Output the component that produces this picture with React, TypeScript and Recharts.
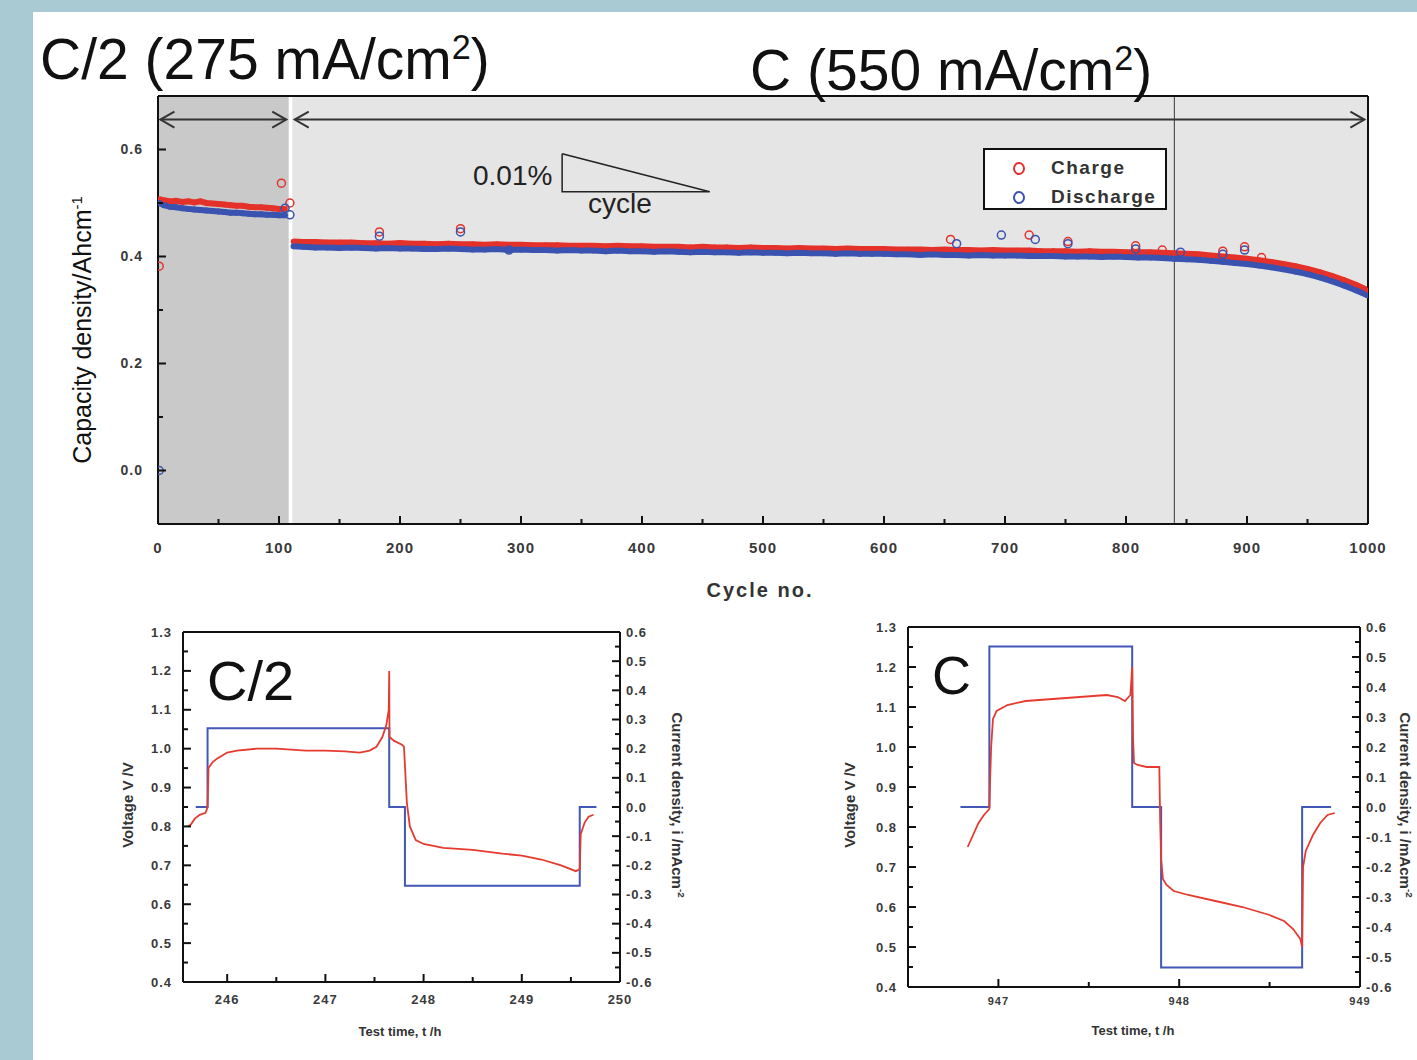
import React from 'react';
import { ComposedChart, Line, XAxis, YAxis, ReferenceArea, ReferenceLine } from 'recharts';

const FONT = '"Liberation Sans", Arial, Helvetica, sans-serif';

// ---- top panel: capacity vs cycle ----
const seg1Cycles = [1, 5, 10, 15, 20, 25, 30, 35, 40, 45, 50, 55, 60, 65, 70, 75, 80, 85, 90, 95, 100, 105];
const seg1Charge = [0.507, 0.505, 0.503, 0.504, 0.502, 0.503, 0.501, 0.503, 0.5, 0.499, 0.498, 0.497, 0.496, 0.495, 0.495, 0.493, 0.492, 0.492, 0.491, 0.49, 0.489, 0.489];
const seg1Discharge = [0.5, 0.496, 0.493, 0.492, 0.49, 0.489, 0.488, 0.487, 0.486, 0.485, 0.484, 0.483, 0.482, 0.482, 0.481, 0.48, 0.479, 0.479, 0.478, 0.478, 0.477, 0.477];

const seg2Cycles = [
  112, 120, 130, 140, 150, 160, 170, 180, 190, 200,
  210, 220, 230, 240, 250, 260, 270, 280, 290, 300,
  310, 320, 330, 340, 350, 360, 370, 380, 390, 400,
  410, 420, 430, 440, 450, 460, 470, 480, 490, 500,
  510, 520, 530, 540, 550, 560, 570, 580, 590, 600,
  610, 620, 630, 640, 650, 660, 670, 680, 690, 700,
  710, 720, 730, 740, 750, 760, 770, 780, 790, 800,
  810, 820, 830, 840, 850, 860, 870, 880, 890, 900,
  910, 920, 930, 940, 950, 960, 970, 980, 990, 1000,
];
const seg2Charge = [
  0.428, 0.427, 0.427, 0.426, 0.426, 0.426, 0.425, 0.425, 0.424, 0.425,
  0.424, 0.424, 0.423, 0.424, 0.423, 0.423, 0.422, 0.423, 0.422, 0.422,
  0.421, 0.421, 0.421, 0.42, 0.42, 0.42, 0.419, 0.42, 0.419, 0.419,
  0.418, 0.418, 0.418, 0.417, 0.418, 0.417, 0.417, 0.416, 0.417, 0.416,
  0.416, 0.415, 0.416, 0.415, 0.415, 0.414, 0.415, 0.414, 0.414, 0.414,
  0.413, 0.413, 0.413, 0.412, 0.413, 0.412, 0.412, 0.411, 0.412, 0.411,
  0.411, 0.411, 0.41, 0.41, 0.41, 0.409, 0.41, 0.409, 0.409, 0.408,
  0.408, 0.408, 0.407, 0.406, 0.405, 0.404, 0.402, 0.4, 0.398, 0.396,
  0.393, 0.39, 0.386, 0.382, 0.377, 0.371, 0.364, 0.356, 0.347, 0.337,
];
const seg2Discharge = [
  0.419, 0.418, 0.417, 0.417, 0.416, 0.417, 0.416, 0.415, 0.416, 0.415,
  0.415, 0.414, 0.414, 0.415, 0.414, 0.413, 0.413, 0.414, 0.412, 0.413,
  0.412, 0.412, 0.411, 0.412, 0.411, 0.411, 0.41, 0.411, 0.41, 0.41,
  0.409, 0.41, 0.409, 0.408, 0.409, 0.408, 0.408, 0.407, 0.408, 0.407,
  0.407, 0.406, 0.407, 0.406, 0.406, 0.405, 0.406, 0.405, 0.405, 0.405,
  0.404, 0.404, 0.403, 0.404, 0.403, 0.403, 0.402, 0.403, 0.402, 0.402,
  0.402, 0.401, 0.401, 0.401, 0.4, 0.4, 0.4, 0.399, 0.4, 0.399,
  0.398, 0.398, 0.397, 0.396, 0.395, 0.394, 0.392, 0.39, 0.388, 0.386,
  0.383, 0.38, 0.376, 0.372, 0.367, 0.361, 0.354, 0.346, 0.337, 0.327,
];

// scattered single points away from the band
const chargeOutCycles = [1, 102, 109, 183, 250, 655, 720, 752, 808, 830, 880, 898, 912];
const chargeOutValues = [0.382, 0.537, 0.5, 0.446, 0.452, 0.432, 0.44, 0.428, 0.42, 0.412, 0.41, 0.418, 0.398];
const dischargeOutCycles = [1, 105, 109, 183, 250, 290, 660, 697, 725, 752, 808, 845, 880, 898];
const dischargeOutValues = [0.0, 0.49, 0.478, 0.438, 0.446, 0.412, 0.424, 0.44, 0.432, 0.424, 0.414, 0.408, 0.404, 0.412];

// slope triangle (0.01 % / cycle)
const triangleCycles = [334, 334, 456, 334];
const triangleValues = [0.592, 0.521, 0.521, 0.592];

const cycleTicks = [0, 50, 100, 150, 200, 250, 300, 350, 400, 450, 500, 550, 600, 650, 700, 750, 800, 850, 900, 950, 1000];
const cycleMajors = [0, 100, 200, 300, 400, 500, 600, 700, 800, 900, 1000];
const capTicks = [0, 0.1, 0.2, 0.3, 0.4, 0.5, 0.6];
const capMajors = [0, 0.2, 0.4, 0.6];

// ---- lower panels: voltage / current vs time ----
const halfTime = [245.6, 245.63, 245.67, 245.72, 245.78, 245.8, 245.81, 245.85, 245.9, 246.0, 246.1, 246.3, 246.5, 246.8, 247.0, 247.2, 247.35, 247.45, 247.52, 247.58, 247.62, 247.645, 247.65, 247.653, 247.7, 247.78, 247.8, 247.83, 247.86, 247.92, 248.0, 248.2, 248.5, 248.8, 249.0, 249.2, 249.4, 249.55, 249.59, 249.6, 249.64, 249.68, 249.73];
const halfVoltage = [0.8, 0.805, 0.82, 0.83, 0.835, 0.85, 0.95, 0.965, 0.975, 0.99, 0.995, 1.0, 1.0, 0.995, 0.995, 0.993, 0.99, 0.995, 1.005, 1.03, 1.06, 1.1, 1.2, 1.03, 1.02, 1.01, 1.005, 0.86, 0.8, 0.765, 0.755, 0.745, 0.74, 0.73, 0.725, 0.715, 0.7, 0.685, 0.69, 0.78, 0.81, 0.825, 0.83];
const halfCurTime = [245.68, 245.8, 247.65, 247.81, 249.59, 249.76];
const halfCurrent = [0, 0.27, 0, -0.27, 0, 0];

const fullTime = [946.83, 946.86, 946.89, 946.92, 946.94, 946.95, 946.955, 946.96, 946.97, 946.99, 947.05, 947.15, 947.3, 947.45, 947.6, 947.66, 947.7, 947.73, 947.74, 947.745, 947.75, 947.77, 947.82, 947.89, 947.895, 947.9, 947.91, 947.93, 947.97, 948.05, 948.2, 948.35, 948.5, 948.58, 948.63, 948.67, 948.68, 948.685, 948.7, 948.74, 948.78, 948.82, 948.86];
const fullVoltage = [0.75, 0.78, 0.81, 0.83, 0.84, 0.845, 0.93, 1.0, 1.07, 1.09, 1.105, 1.115, 1.12, 1.125, 1.13, 1.125, 1.115, 1.13, 1.2, 1.02, 0.96, 0.955, 0.95, 0.95, 0.81, 0.72, 0.67, 0.655, 0.64, 0.63, 0.615, 0.6, 0.58, 0.565, 0.545, 0.52, 0.5, 0.7, 0.74, 0.78, 0.81, 0.83, 0.835];
const fullCurTime = [946.79, 946.95, 947.74, 947.9, 948.68, 948.84];
const fullCurrent = [0, 0.535, 0, -0.535, 0, 0];

const voltTicks = [0.4, 0.45, 0.5, 0.55, 0.6, 0.65, 0.7, 0.75, 0.8, 0.85, 0.9, 0.95, 1.0, 1.05, 1.1, 1.15, 1.2, 1.25, 1.3];
const voltMajors = [0.4, 0.5, 0.6, 0.7, 0.8, 0.9, 1.0, 1.1, 1.2, 1.3];
const curTicks = [-0.6, -0.55, -0.5, -0.45, -0.4, -0.35, -0.3, -0.25, -0.2, -0.15, -0.1, -0.05, 0, 0.05, 0.1, 0.15, 0.2, 0.25, 0.3, 0.35, 0.4, 0.45, 0.5, 0.55, 0.6];
const curMajors = [-0.6, -0.5, -0.4, -0.3, -0.2, -0.1, 0, 0.1, 0.2, 0.3, 0.4, 0.5, 0.6];
const halfTicks = [246, 246.5, 247, 247.5, 248, 248.5, 249, 249.5, 250];
const halfMajors = [246, 247, 248, 249, 250];
const fullTicks = [947, 947.5, 948, 948.5, 949];
const fullMajors = [947, 948, 949];

const RED = '#e4322b';
const BLUE = '#3a52b0';

const capRows = [
  ...seg1Cycles.map((c, i) => ({ cycle: c, charge: seg1Charge[i], discharge: seg1Discharge[i] })),
  { cycle: 109, charge: null, discharge: null },
  ...seg2Cycles.map((c, i) => ({ cycle: c, charge: seg2Charge[i], discharge: seg2Discharge[i] })),
];
const chargeOutRows = chargeOutCycles.map((c, i) => ({ cycle: c, v: chargeOutValues[i] }));
const dischargeOutRows = dischargeOutCycles.map((c, i) => ({ cycle: c, v: dischargeOutValues[i] }));
const triangleRows = triangleCycles.map((c, i) => ({ cycle: c, v: triangleValues[i] }));

const toRows = (t: number[], vals: number[]) => t.map((x, i) => ({ t: x, v: vals[i] }));

type Side = 'bottom' | 'top' | 'left' | 'right';

// ticks drawn inward, labels outside, minor ticks shorter
function axisTick(side: Side, majors: number[], fmt: ((v: number) => string) | null, gap: number, fontSize: number) {
  return (props: any) => {
    const { x, y, payload } = props;
    const v = payload.value;
    const isMajor = majors.some((m) => Math.abs(m - v) < 1e-6);
    const len = isMajor ? 8 : 5;
    let line;
    let label = null;
    const textStyle = { fontFamily: FONT, fontSize, fontWeight: 700, fill: '#3a3a3a', letterSpacing: 1 };
    if (side === 'bottom') {
      line = <line x1={x} y1={y} x2={x} y2={y - len} />;
      if (fmt && isMajor) label = <text x={x} y={y + gap} textAnchor="middle" style={textStyle}>{fmt(v)}</text>;
    } else if (side === 'top') {
      line = <line x1={x} y1={y} x2={x} y2={y + len} />;
    } else if (side === 'left') {
      line = <line x1={x} y1={y} x2={x + len} y2={y} />;
      if (fmt && isMajor) label = <text x={x - gap} y={y} dy="0.35em" textAnchor="end" style={textStyle}>{fmt(v)}</text>;
    } else {
      line = <line x1={x} y1={y} x2={x - len} y2={y} />;
      if (fmt && isMajor) label = <text x={x + gap} y={y} dy="0.35em" textAnchor="start" style={textStyle}>{fmt(v)}</text>;
    }
    return (
      <g>
        <g stroke="#111" strokeWidth={2}>{line}</g>
        {label}
      </g>
    );
  };
}

const DoubleArrow = (p: any) => {
  const { x1, y1, x2, y2 } = p;
  const w = 14;
  const h = 8;
  return (
    <g stroke="#333" strokeWidth={2} fill="none">
      <line x1={x1} y1={y1} x2={x2} y2={y2} />
      <polyline points={`${x1 + w},${y1 - h} ${x1},${y1} ${x1 + w},${y1 + h}`} />
      <polyline points={`${x2 - w},${y2 - h} ${x2},${y2} ${x2 - w},${y2 + h}`} />
    </g>
  );
};

const axisLine = { stroke: '#111', strokeWidth: 2 };

// axes get a size of 1px (a zero-sized axis is not drawn), margins take the rest
const CapacityChart = () => (
  <div style={{ position: 'absolute', left: 0, top: 0 }}>
    <ComposedChart width={1417} height={620} data={capRows} margin={{ top: 95, left: 157, right: 48, bottom: 95 }}>
      <XAxis
        type="number" dataKey="cycle" domain={[0, 1000]} ticks={cycleTicks} interval={0} allowDataOverflow
        height={1} tickSize={0} tickMargin={0} tickLine={false} axisLine={axisLine}
        tick={axisTick('bottom', cycleMajors, (v) => String(v), 29, 15)}
      />
      <XAxis xAxisId="top" orientation="top" type="number" dataKey="cycle" domain={[0, 1000]} height={1} tick={false} tickLine={false} axisLine={axisLine} />
      <YAxis
        type="number" domain={[-0.1, 0.7]} ticks={capTicks} interval={0} allowDataOverflow
        width={1} tickSize={0} tickMargin={0} tickLine={false} axisLine={axisLine}
        tick={axisTick('left', capMajors, (v) => v.toFixed(1), 15, 14)}
      />
      <YAxis yAxisId="right" orientation="right" type="number" domain={[0, 1]} width={1} tick={false} tickLine={false} axisLine={axisLine} />
      <ReferenceArea x1={0} x2={108} fill="#c9c9c9" fillOpacity={1} stroke="none" />
      <ReferenceArea x1={111} x2={1000} fill="#e5e5e5" fillOpacity={1} stroke="none" />
      <ReferenceLine x={840} stroke="#555" strokeWidth={1.2} />
      <ReferenceLine segment={[{ x: 2, y: 0.656 }, { x: 106, y: 0.656 }]} shape={DoubleArrow} />
      <ReferenceLine segment={[{ x: 113, y: 0.656 }, { x: 997, y: 0.656 }]} shape={DoubleArrow} />
      <Line data={triangleRows} dataKey="v" type="linear" stroke="#222" strokeWidth={1.5} dot={false} activeDot={false} isAnimationActive={false} />
      <Line dataKey="charge" type="linear" stroke={RED} strokeWidth={6} dot={{ r: 2.8, fill: RED, stroke: RED, strokeWidth: 0 }} activeDot={false} isAnimationActive={false} />
      <Line dataKey="discharge" type="linear" stroke={BLUE} strokeWidth={6} dot={{ r: 3, fill: BLUE, stroke: BLUE, strokeWidth: 0 }} activeDot={false} isAnimationActive={false} />
      <Line data={chargeOutRows} dataKey="v" stroke="none" dot={{ r: 4, fill: 'none', stroke: RED, strokeWidth: 1.5 }} activeDot={false} isAnimationActive={false} />
      <Line data={dischargeOutRows} dataKey="v" stroke="none" dot={{ r: 4, fill: 'none', stroke: BLUE, strokeWidth: 1.5 }} activeDot={false} isAnimationActive={false} />
    </ComposedChart>
  </div>
);

type PanelProps = {
  left: number; top: number; width: number; height: number;
  margin: { top: number; left: number; right: number; bottom: number };
  tDomain: [number, number]; tTicks: number[]; tMajors: number[];
  vRows: { t: number; v: number }[]; iRows: { t: number; v: number }[];
  xGap: number; xFont: number;
};

const TimePanel = ({ left, top, width, height, margin, tDomain, tTicks, tMajors, vRows, iRows, xGap, xFont }: PanelProps) => (
  <div style={{ position: 'absolute', left, top }}>
    <ComposedChart width={width} height={height} margin={margin}>
      <XAxis
        type="number" dataKey="t" domain={tDomain} ticks={tTicks} interval={0} allowDataOverflow
        height={1} tickSize={0} tickMargin={0} tickLine={false} axisLine={axisLine}
        tick={axisTick('bottom', tMajors, (v) => String(v), xGap, xFont)}
      />
      <XAxis
        xAxisId="top" orientation="top" type="number" dataKey="t" domain={tDomain} ticks={tTicks} interval={0}
        height={1} tickSize={0} tickMargin={0} tickLine={false} axisLine={axisLine}
        tick={axisTick('top', tMajors, null, 0, 12)}
      />
      <YAxis
        yAxisId="v" type="number" domain={[0.4, 1.3]} ticks={voltTicks} interval={0} allowDataOverflow
        width={1} tickSize={0} tickMargin={0} tickLine={false} axisLine={axisLine}
        tick={axisTick('left', voltMajors, (v) => v.toFixed(1), 11, 13)}
      />
      <YAxis
        yAxisId="i" orientation="right" type="number" domain={[-0.6, 0.6]} ticks={curTicks} interval={0} allowDataOverflow
        width={1} tickSize={0} tickMargin={0} tickLine={false} axisLine={axisLine}
        tick={axisTick('right', curMajors, (v) => v.toFixed(1), 6, 13)}
      />
      <Line yAxisId="i" data={iRows} dataKey="v" type="stepAfter" stroke="#4257b6" strokeWidth={2} dot={false} activeDot={false} isAnimationActive={false} />
      <Line yAxisId="v" data={vRows} dataKey="v" type="linear" stroke="#e53b2f" strokeWidth={1.8} dot={false} activeDot={false} isAnimationActive={false} />
    </ComposedChart>
  </div>
);

const abs = (extra: React.CSSProperties): React.CSSProperties => ({ position: 'absolute', whiteSpace: 'nowrap', fontFamily: FONT, color: '#111', lineHeight: 1, ...extra });
const centered = (x: number, y: number, rot: number, extra: React.CSSProperties): React.CSSProperties =>
  abs({ left: x, top: y, transform: `translate(-50%, -50%) rotate(${rot}deg)`, ...extra });

export default function App() {
  return (
    <div style={{ position: 'absolute', left: 0, top: 0, width: 1417, height: 1060, background: '#a9cad2', overflow: 'hidden' }}>
      <div style={{ position: 'absolute', left: 33, top: 12, right: 0, bottom: 0, background: '#ffffff' }} />

      <CapacityChart />
      <TimePanel
        left={100} top={600} width={600} height={460}
        margin={{ top: 31, left: 82, right: 79, bottom: 77 }}
        tDomain={[245.55, 250]} tTicks={halfTicks} tMajors={halfMajors}
        vRows={toRows(halfTime, halfVoltage)} iRows={toRows(halfCurTime, halfCurrent)}
        xGap={22} xFont={13}
      />
      <TimePanel
        left={820} top={600} width={597} height={460}
        margin={{ top: 26, left: 87, right: 56, bottom: 72 }}
        tDomain={[946.5, 949]} tTicks={fullTicks} tMajors={fullMajors}
        vRows={toRows(fullTime, fullVoltage)} iRows={toRows(fullCurTime, fullCurrent)}
        xGap={18} xFont={11}
      />

      {/* titles */}
      <div style={abs({ left: 40, top: 30, fontSize: 57 })}>C/2 (275 mA/cm<sup style={{ fontSize: '0.6em' }}>2</sup>)</div>
      <div style={abs({ left: 750, top: 41, fontSize: 57 })}>C (550 mA/cm<sup style={{ fontSize: '0.6em' }}>2</sup>)</div>

      {/* top panel annotations */}
      <div style={centered(82, 330, -90, { fontSize: 25 })}>Capacity density/Ahcm<sup style={{ fontSize: '0.6em' }}>-1</sup></div>
      <div style={centered(760, 590, 0, { fontSize: 20, fontWeight: 700, letterSpacing: 2, color: '#333' })}>Cycle no.</div>
      <div style={abs({ left: 473, top: 162, fontSize: 28, color: '#222' })}>0.01%</div>
      <div style={abs({ left: 588, top: 190, fontSize: 28, color: '#222' })}>cycle</div>

      <div style={abs({ left: 983, top: 148, width: 180, height: 58, border: '2px solid #111', background: '#ffffff' })}>
        {[
          { name: 'Charge', color: RED },
          { name: 'Discharge', color: BLUE },
        ].map((it, i) => (
          <div key={it.name} style={abs({ left: 28, top: 8 + i * 29, fontSize: 19, fontWeight: 700, letterSpacing: 1.5, color: '#333' })}>
            <span style={{ display: 'inline-block', width: 8, height: 9, border: `2px solid ${it.color}`, borderRadius: '50%', marginRight: 26, verticalAlign: 'middle' }} />
            {it.name}
          </div>
        ))}
      </div>

      {/* lower panels */}
      <div style={abs({ left: 207, top: 653, fontSize: 56 })}>C/2</div>
      <div style={abs({ left: 932, top: 648, fontSize: 54 })}>C</div>

      <div style={centered(127, 805, -90, { fontSize: 15, fontWeight: 700, color: '#333' })}>Voltage V /V</div>
      <div style={centered(678, 805, 90, { fontSize: 15, fontWeight: 700, color: '#333' })}>Current density, i /mAcm<sup style={{ fontSize: '0.65em' }}>-2</sup></div>
      <div style={centered(400, 1031, 0, { fontSize: 13, fontWeight: 700, color: '#333' })}>Test time, t /h</div>

      <div style={centered(849, 805, -90, { fontSize: 15, fontWeight: 700, color: '#333' })}>Voltage V /V</div>
      <div style={centered(1406, 805, 90, { fontSize: 15, fontWeight: 700, color: '#333' })}>Current density, i /mAcm<sup style={{ fontSize: '0.65em' }}>-2</sup></div>
      <div style={centered(1133, 1030, 0, { fontSize: 13, fontWeight: 700, color: '#333' })}>Test time, t /h</div>
    </div>
  );
}
